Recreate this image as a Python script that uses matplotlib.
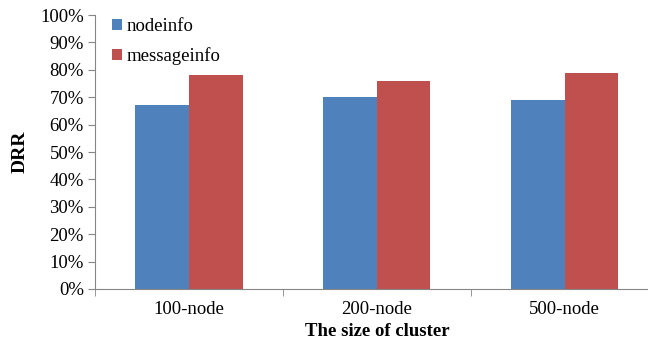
import numpy as np
import matplotlib.pyplot as plt
from matplotlib.ticker import FixedLocator

## Data #############################################################
categories  = ['100-node', '200-node', '500-node']
nodeinfo    = [67, 70, 69]      # DRR in %
messageinfo = [78, 76, 79]      # DRR in %
yticks      = np.arange(0, 101, 10)
#####################################################################

plt.rcParams['font.family'] = ['Liberation Serif', 'DejaVu Serif']

fig = plt.figure(figsize=(6.48, 3.39), dpi=100)
ax  = fig.add_axes([0.1466, 0.1475, 0.870, 0.808])

x = np.arange(len(categories))
w = 0.285
ax.bar(x - w/2, nodeinfo, w, color='#4F81BD', label='nodeinfo')
ax.bar(x + w/2, messageinfo, w, color='#C0504D', label='messageinfo')

ax.set_xlim(-0.5, len(categories) - 0.5)
ax.set_ylim(0, 100)
ax.set_yticks(yticks)
ax.set_yticklabels([str(v) + '%' for v in yticks], fontsize=13.5)
ax.set_xticks(x)
ax.set_xticklabels(categories, fontsize=13.5)
ax.xaxis.set_minor_locator(FixedLocator(np.arange(-0.5, len(categories), 1.0)))
ax.tick_params(axis='x', which='major', length=0, pad=9)
ax.tick_params(axis='x', which='minor', length=5, color='#868686', direction='out')
ax.tick_params(axis='y', length=5, color='#868686', direction='out', pad=3)

for s in ['top', 'right']:
    ax.spines[s].set_visible(False)
for s in ['left', 'bottom']:
    ax.spines[s].set_color('#868686')

ax.set_ylabel('DRR', fontsize=14, fontweight='bold', labelpad=8)
ax.set_xlabel('The size of cluster', fontsize=13.5, fontweight='bold', labelpad=3)

ax.legend(loc='upper left', bbox_to_anchor=(0.0, 1.05), frameon=False,
          fontsize=13.5, handlelength=0.55, handleheight=0.55, handletextpad=0.25,
          labelspacing=0.65)

plt.savefig('out.png', dpi=100)
